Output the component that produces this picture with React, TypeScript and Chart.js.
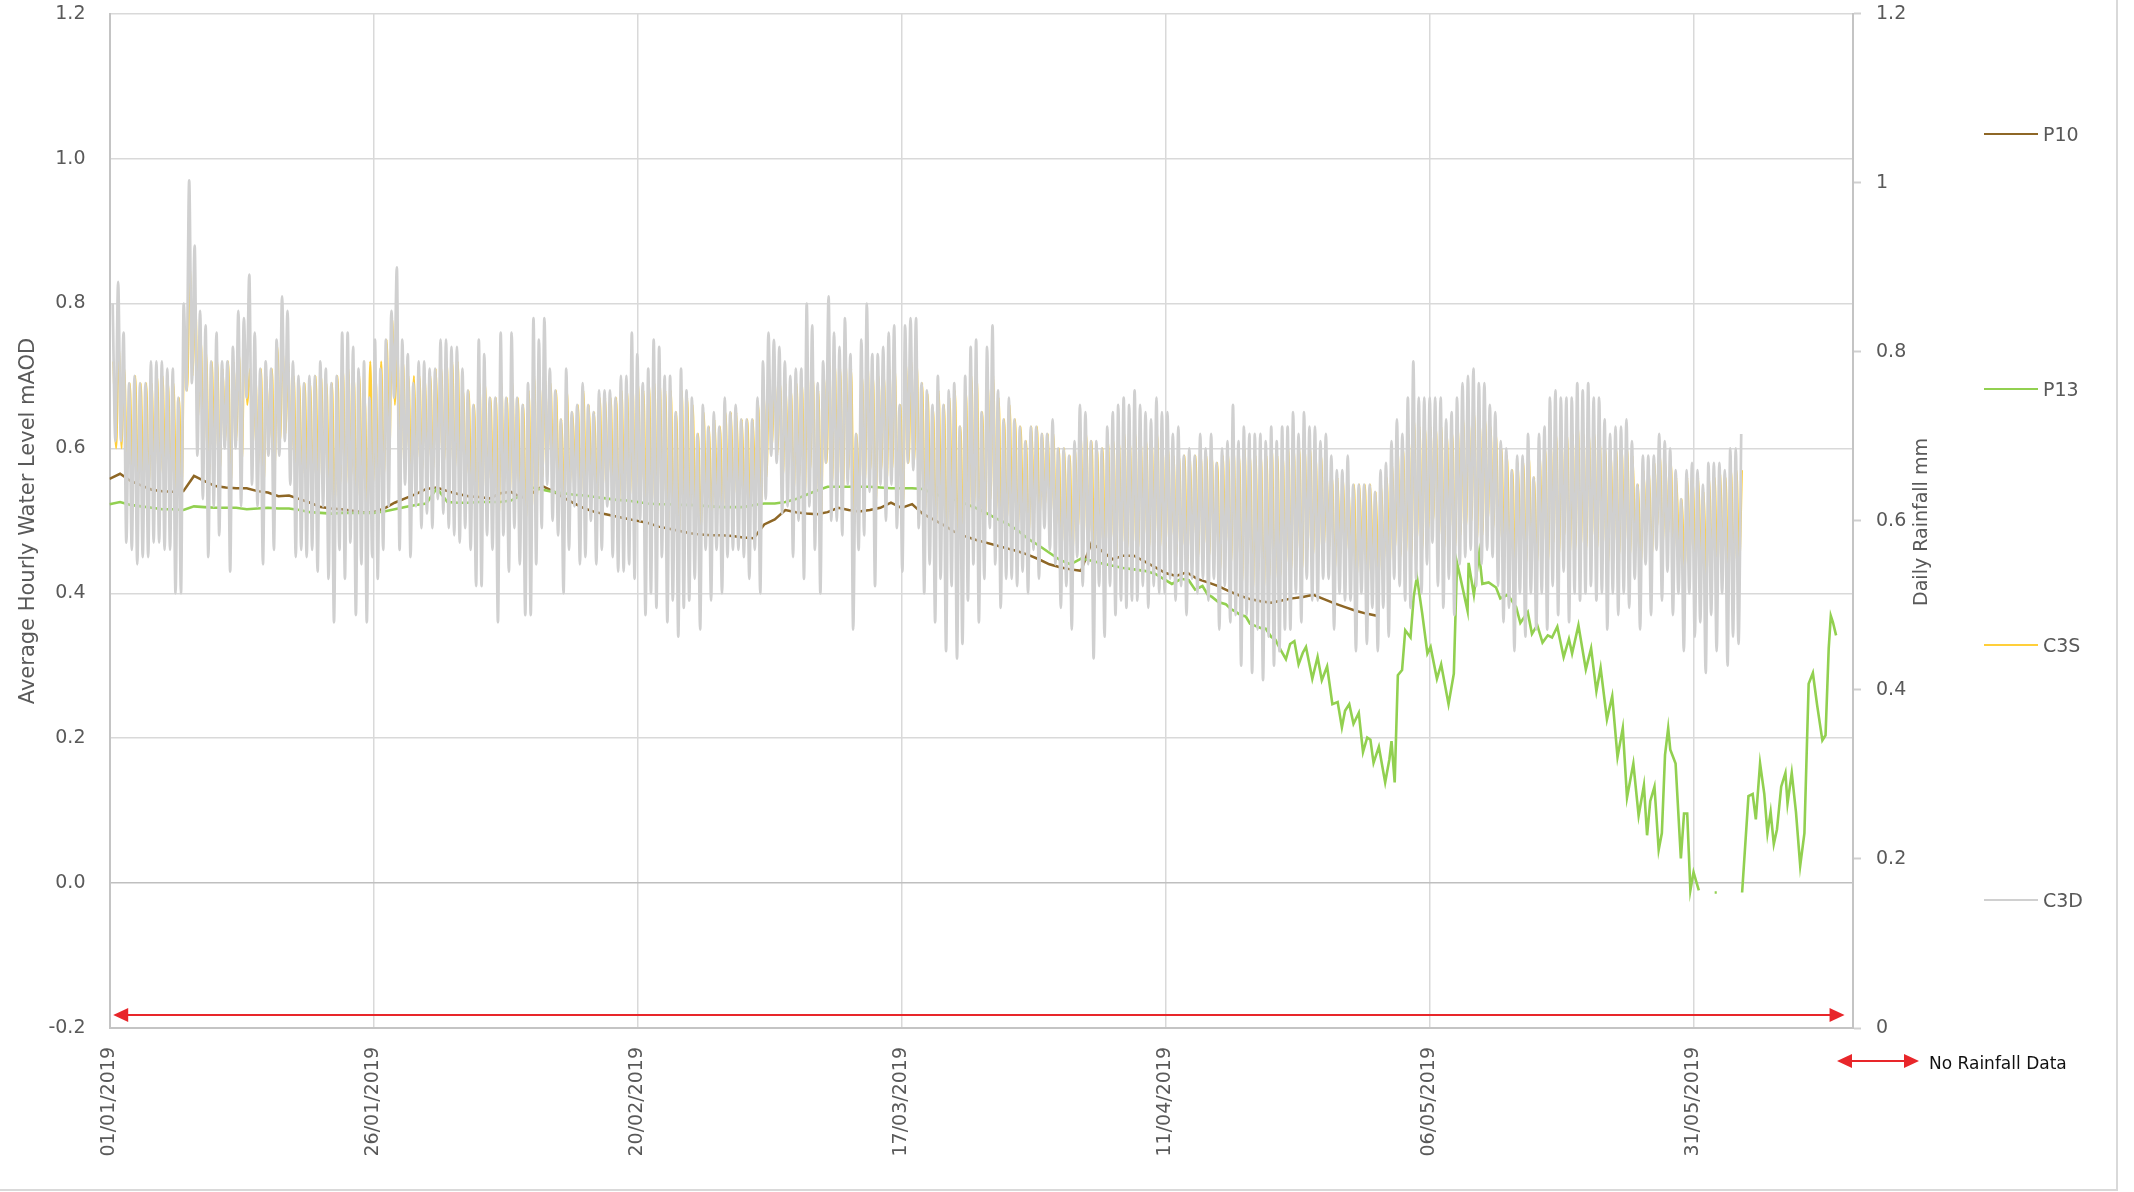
import React, { useEffect, useRef } from 'react';
import { Chart, registerables } from 'chart.js';

Chart.register(...registerables);

// ---------- time axis ----------
const START_DATE = Date.UTC(2019, 0, 1);
const X_MAX_DAY = 165.1;
const X_TICK_STEP = 25;
const TIDE_DAYS = 12.42 / 24; // semi-diurnal tide period (days)
const C3D_FIRST_HIGH_DAY = 0.3;
const C3S_FIRST_HIGH_DAY = 0.37;

// ---------- C3D (grey) : high / low water per tide ----------
const C3D_HIGH_JAN = [0.80,0.83,0.76,0.69,0.70,0.69,0.69,0.72,0.72,0.72,0.71,0.71,0.67,0.80,0.97,0.88,0.79,0.77,0.72,0.76,0.72,0.72,0.74,0.79,0.78,0.84,0.76,0.71,0.72,0.71,0.75,0.81,0.79,0.72,0.70,0.69,0.70,0.70,0.72,0.71,0.69,0.70,0.76,0.76,0.74,0.71,0.72,0.67,0.75,0.71,0.75,0.79,0.85,0.75,0.73,0.69,0.72,0.72,0.71,0.71,0.75,0.75,0.74,0.74];
const C3D_LOW_JAN = [0.61,0.61,0.47,0.46,0.44,0.45,0.45,0.47,0.47,0.46,0.46,0.40,0.40,0.68,0.69,0.59,0.53,0.45,0.52,0.48,0.60,0.43,0.60,0.52,0.67,0.55,0.52,0.44,0.59,0.46,0.59,0.61,0.55,0.45,0.46,0.45,0.46,0.43,0.52,0.42,0.36,0.46,0.42,0.47,0.37,0.44,0.36,0.45,0.42,0.46,0.52,0.67,0.46,0.55,0.45,0.52,0.49,0.51,0.49,0.53,0.51,0.49,0.48,0.47];
const C3D_HIGH_FEB = [0.71,0.68,0.66,0.75,0.73,0.67,0.67,0.76,0.67,0.76,0.67,0.66,0.69,0.78,0.75,0.78,0.71,0.68,0.64,0.71,0.65,0.66,0.69,0.66,0.65,0.68,0.68,0.68,0.67,0.70,0.70,0.76,0.73,0.69,0.71,0.75,0.74,0.70,0.70,0.65,0.71,0.68,0.67,0.62,0.66,0.63,0.65,0.63,0.67,0.65,0.66,0.64,0.64,0.64,0.67,0.72,0.76,0.75,0.74,0.72,0.70,0.71,0.71,0.80];
const C3D_LOW_FEB = [0.49,0.46,0.41,0.41,0.48,0.46,0.36,0.48,0.43,0.49,0.44,0.37,0.37,0.44,0.49,0.55,0.50,0.48,0.40,0.46,0.52,0.44,0.45,0.50,0.44,0.46,0.52,0.45,0.43,0.43,0.44,0.42,0.50,0.37,0.40,0.38,0.45,0.36,0.39,0.34,0.38,0.39,0.42,0.35,0.46,0.39,0.46,0.40,0.45,0.46,0.46,0.45,0.42,0.46,0.40,0.53,0.59,0.58,0.51,0.52,0.45,0.50,0.42,0.52];
const C3D_HIGH_MAR = [0.77,0.69,0.72,0.81,0.76,0.74,0.78,0.73,0.62,0.75,0.80,0.73,0.73,0.74,0.76,0.77,0.66,0.77,0.78,0.78,0.69,0.68,0.66,0.70,0.66,0.68,0.69,0.63,0.70,0.74,0.75,0.65,0.74,0.77,0.68,0.64,0.67,0.64,0.63,0.61,0.63,0.63,0.62,0.62,0.64,0.60,0.60,0.59,0.61,0.66,0.65,0.61,0.61,0.60,0.63,0.65,0.66,0.67,0.66,0.68,0.66,0.65,0.64,0.67];
const C3D_LOW_MAR = [0.46,0.40,0.58,0.50,0.50,0.48,0.55,0.35,0.46,0.48,0.54,0.41,0.55,0.50,0.55,0.49,0.43,0.58,0.57,0.49,0.40,0.44,0.36,0.42,0.32,0.41,0.31,0.33,0.39,0.44,0.36,0.42,0.49,0.44,0.38,0.42,0.42,0.41,0.43,0.40,0.46,0.42,0.49,0.46,0.44,0.38,0.41,0.35,0.45,0.41,0.44,0.31,0.41,0.34,0.41,0.37,0.39,0.38,0.39,0.39,0.41,0.38,0.41,0.40];
const C3D_HIGH_APR = [0.65,0.65,0.62,0.63,0.59,0.60,0.59,0.62,0.60,0.62,0.58,0.60,0.61,0.66,0.61,0.63,0.62,0.62,0.62,0.61,0.63,0.61,0.63,0.63,0.65,0.62,0.65,0.63,0.63,0.61,0.62,0.59,0.57,0.57,0.59,0.55,0.55,0.55,0.55,0.54,0.57,0.58,0.61,0.64,0.62,0.67,0.72,0.67,0.67,0.67,0.67,0.67,0.64,0.65,0.67,0.69,0.70,0.71,0.69,0.69,0.66,0.65,0.61,0.60];
const C3D_LOW_APR = [0.40,0.42,0.39,0.41,0.37,0.42,0.40,0.42,0.39,0.42,0.35,0.41,0.36,0.37,0.30,0.37,0.29,0.35,0.28,0.34,0.30,0.32,0.35,0.35,0.40,0.36,0.42,0.39,0.39,0.42,0.42,0.35,0.40,0.39,0.39,0.32,0.40,0.33,0.38,0.32,0.38,0.34,0.42,0.41,0.39,0.38,0.42,0.40,0.44,0.47,0.41,0.38,0.42,0.37,0.44,0.45,0.46,0.41,0.44,0.46,0.45,0.41,0.36,0.38];
const C3D_HIGH_MAY = [0.57,0.59,0.59,0.62,0.56,0.62,0.63,0.67,0.68,0.67,0.67,0.67,0.69,0.68,0.69,0.67,0.67,0.64,0.62,0.63,0.63,0.64,0.61,0.55,0.59,0.59,0.59,0.62,0.61,0.60,0.57,0.53,0.57,0.58,0.57,0.55,0.58,0.58,0.58,0.57,0.60,0.60,0.62];
const C3D_LOW_MAY = [0.32,0.40,0.34,0.40,0.35,0.40,0.35,0.41,0.37,0.43,0.36,0.40,0.39,0.40,0.41,0.39,0.40,0.35,0.40,0.37,0.40,0.38,0.42,0.35,0.44,0.37,0.46,0.39,0.43,0.37,0.40,0.32,0.40,0.34,0.36,0.29,0.37,0.32,0.40,0.30,0.34,0.33];

// ---------- C3S (yellow) : high / low water per tide ----------
const C3S_HIGH_JAN = [0.72,0.74,0.71,0.69,0.70,0.69,0.69,0.69,0.70,0.70,0.69,0.69,0.67,0.76,0.85,0.80,0.75,0.73,0.72,0.72,0.71,0.72,0.72,0.73,0.74,0.71,0.70,0.71,0.70,0.71,0.74,0.74,0.72,0.70,0.69,0.69,0.69,0.70,0.70,0.69,0.69,0.70,0.71,0.71,0.70,0.70,0.67,0.72,0.70,0.72,0.75,0.78,0.73,0.72,0.70,0.70,0.70,0.70,0.70,0.71,0.71,0.72,0.72,0.72];
const C3S_LOW_JAN = [0.60,0.60,0.57,0.56,0.55,0.55,0.55,0.56,0.56,0.56,0.56,0.54,0.54,0.68,0.70,0.64,0.60,0.56,0.59,0.57,0.61,0.55,0.61,0.58,0.66,0.60,0.58,0.55,0.61,0.57,0.61,0.62,0.59,0.56,0.56,0.55,0.56,0.54,0.58,0.54,0.52,0.55,0.54,0.56,0.52,0.55,0.52,0.55,0.54,0.56,0.59,0.66,0.56,0.59,0.56,0.58,0.57,0.58,0.57,0.59,0.58,0.57,0.57,0.57];
const C3S_HIGH_FEB = [0.68,0.68,0.66,0.69,0.69,0.67,0.67,0.69,0.67,0.69,0.67,0.66,0.68,0.70,0.69,0.70,0.69,0.68,0.64,0.68,0.65,0.66,0.68,0.66,0.65,0.67,0.67,0.67,0.67,0.68,0.68,0.69,0.69,0.68,0.69,0.69,0.69,0.68,0.68,0.65,0.68,0.67,0.66,0.62,0.65,0.63,0.64,0.63,0.65,0.65,0.65,0.64,0.64,0.64,0.66,0.68,0.70,0.70,0.69,0.69,0.68,0.69,0.69,0.71];
const C3S_LOW_FEB = [0.56,0.54,0.52,0.52,0.55,0.54,0.50,0.55,0.53,0.55,0.53,0.50,0.50,0.53,0.56,0.59,0.56,0.55,0.52,0.54,0.57,0.53,0.54,0.56,0.53,0.54,0.56,0.53,0.52,0.52,0.53,0.52,0.55,0.50,0.52,0.51,0.53,0.49,0.51,0.48,0.51,0.51,0.52,0.49,0.53,0.51,0.53,0.51,0.53,0.53,0.54,0.53,0.52,0.54,0.52,0.56,0.60,0.59,0.56,0.57,0.54,0.56,0.53,0.57];
const C3S_HIGH_MAR = [0.70,0.68,0.70,0.72,0.72,0.71,0.72,0.71,0.62,0.70,0.72,0.70,0.70,0.70,0.71,0.71,0.66,0.72,0.72,0.72,0.69,0.675,0.655,0.68,0.66,0.67,0.68,0.63,0.68,0.70,0.70,0.65,0.69,0.70,0.67,0.64,0.66,0.64,0.63,0.61,0.63,0.63,0.62,0.62,0.62,0.60,0.60,0.59,0.60,0.62,0.62,0.61,0.60,0.60,0.61,0.61,0.61,0.62,0.61,0.62,0.61,0.61,0.61,0.62];
const C3S_LOW_MAR = [0.53,0.50,0.58,0.55,0.55,0.54,0.57,0.49,0.54,0.55,0.57,0.52,0.57,0.55,0.57,0.55,0.52,0.58,0.58,0.55,0.51,0.53,0.49,0.52,0.48,0.51,0.47,0.48,0.50,0.52,0.49,0.50,0.53,0.51,0.48,0.50,0.50,0.49,0.50,0.48,0.51,0.50,0.52,0.50,0.49,0.46,0.48,0.45,0.49,0.47,0.48,0.44,0.47,0.45,0.47,0.45,0.46,0.46,0.46,0.46,0.47,0.46,0.47,0.46];
const C3S_HIGH_APR = [0.60,0.60,0.59,0.59,0.59,0.59,0.59,0.59,0.59,0.59,0.58,0.59,0.59,0.60,0.59,0.60,0.59,0.59,0.59,0.59,0.60,0.59,0.59,0.60,0.60,0.60,0.60,0.60,0.59,0.59,0.57,0.56,0.56,0.56,0.55,0.55,0.55,0.55,0.55,0.54,0.55,0.56,0.58,0.60,0.60,0.62,0.64,0.63,0.63,0.63,0.63,0.63,0.62,0.62,0.63,0.64,0.64,0.65,0.64,0.64,0.63,0.62,0.60,0.59];
const C3S_LOW_APR = [0.46,0.47,0.45,0.46,0.44,0.47,0.45,0.46,0.45,0.46,0.43,0.46,0.44,0.44,0.41,0.44,0.40,0.43,0.40,0.42,0.41,0.42,0.43,0.43,0.45,0.43,0.46,0.45,0.45,0.46,0.46,0.43,0.45,0.45,0.45,0.42,0.45,0.42,0.44,0.42,0.44,0.43,0.46,0.45,0.45,0.45,0.47,0.46,0.48,0.50,0.47,0.46,0.48,0.46,0.48,0.49,0.50,0.47,0.48,0.50,0.49,0.47,0.45,0.46];
const C3S_HIGH_MAY = [0.57,0.58,0.58,0.59,0.56,0.59,0.60,0.61,0.62,0.61,0.62,0.62,0.63,0.62,0.62,0.62,0.61,0.60,0.59,0.60,0.60,0.60,0.59,0.55,0.57,0.57,0.58,0.59,0.58,0.58,0.56,0.53,0.56,0.56,0.56,0.54,0.56,0.56,0.57,0.56,0.57,0.57,0.57];
const C3S_LOW_MAY = [0.43,0.46,0.44,0.46,0.44,0.46,0.44,0.47,0.45,0.48,0.45,0.46,0.46,0.46,0.47,0.46,0.46,0.44,0.46,0.45,0.46,0.45,0.47,0.44,0.48,0.45,0.49,0.46,0.48,0.45,0.46,0.43,0.46,0.44,0.45,0.42,0.45,0.43,0.46,0.42,0.44,0.44];

// ---------- P10 (brown) : daily values from 01/01/2019 ----------
const P10_DAILY = [0.558,0.565,0.555,0.549,0.543,0.541,0.540,0.541,0.562,0.555,0.548,0.546,0.545,0.545,0.541,0.539,0.534,0.535,0.530,0.525,0.519,0.517,0.516,0.514,0.512,0.512,0.517,0.525,0.531,0.537,0.544,0.546,0.541,0.537,0.534,0.533,0.531,0.538,0.540,0.532,0.538,0.548,0.541,0.532,0.524,0.517,0.512,0.509,0.506,0.503,0.500,0.497,0.492,0.489,0.486,0.483,0.481,0.480,0.480,0.479,0.477,0.476,0.495,0.502,0.515,0.512,0.510,0.509,0.512,0.518,0.515,0.513,0.515,0.518,0.525,0.518,0.523,0.510,0.502,0.494,0.485,0.479,0.474,0.470,0.466,0.462,0.458,0.453,0.447,0.440,0.436,0.433,0.431,0.470,0.458,0.447,0.452,0.452,0.444,0.436,0.428,0.424,0.429,0.420,0.415,0.410,0.403,0.397,0.392,0.389,0.387,0.390,0.393,0.395,0.398,0.392,0.386,0.381,0.376,0.372,0.369];

// ---------- P13 (green) ----------
const P13_DAILY = [0.523,0.526,0.522,0.520,0.518,0.516,0.516,0.515,0.520,0.519,0.518,0.518,0.518,0.516,0.517,0.518,0.517,0.517,0.515,0.512,0.511,0.510,0.511,0.511,0.511,0.511,0.513,0.516,0.519,0.522,0.524,0.545,0.526,0.525,0.525,0.526,0.526,0.526,0.528,0.535,0.546,0.543,0.540,0.538,0.536,0.535,0.533,0.531,0.529,0.528,0.526,0.524,0.523,0.523,0.522,0.522,0.521,0.520,0.519,0.519,0.519,0.522,0.524,0.524,0.526,0.530,0.536,0.542,0.547,0.547,0.547,0.547,0.547,0.546,0.545,0.545,0.545,0.544,0.538,0.533,0.529,0.524,0.518,0.511,0.503,0.496,0.487,0.475,0.466,0.456,0.446,0.440,0.448,0.445,0.441,0.438,0.435,0.433,0.431,0.427];
const P13_LATE_DAYS = [100.6,101.5,102.2,102.8,103.5,104.0,104.4,105.0,105.7,106.2,106.6,107.1,107.6,108.0,108.5,109.0,109.5,110.0,110.4,110.9,111.4,111.8,112.2,112.6,113.0,113.3,113.9,114.4,114.8,115.3,115.8,116.3,116.7,117.0,117.4,117.8,118.3,118.7,119.1,119.4,119.7,120.2,120.8,121.2,121.4,121.7,122.0,122.4,122.7,123.2,123.5,123.8,124.3,124.8,125.1,125.7,126.1,126.8,127.3,127.6,127.9,128.6,128.7,129.2,129.7,130.0,130.6,131.3,131.7,132.4,133.2,133.6,134.3,134.7,135.2,135.7,136.2,136.6,137.1,137.7,138.2,138.5,139.1,139.8,140.3,140.8,141.2,141.8,142.3,142.8,143.3,143.7,144.3,144.8,145.3,145.6,145.9,146.3,146.7,147.0,147.3,147.6,147.8,148.3,148.8,149.1,149.4,149.7,150.0,150.5,150.6,152.0,152.2,152.3,154.6,155.2,155.6,155.9,156.3,156.7,157.0,157.3,157.6,157.9,158.3,158.7,158.9,159.3,159.7,160.1,160.5,160.9,161.3,161.7,162.2,162.5,162.8,163.0,163.2,163.5];
const P13_LATE_VALUES = [0.413,0.420,0.418,0.405,0.410,0.398,0.395,0.388,0.385,0.378,0.375,0.370,0.368,0.358,0.355,0.352,0.351,0.340,0.336,0.322,0.309,0.330,0.334,0.302,0.318,0.326,0.282,0.312,0.280,0.299,0.247,0.250,0.215,0.238,0.247,0.220,0.235,0.181,0.201,0.198,0.166,0.188,0.139,0.171,0.196,0.139,0.287,0.294,0.349,0.339,0.395,0.423,0.373,0.317,0.326,0.282,0.302,0.247,0.289,0.442,0.423,0.376,0.442,0.398,0.455,0.413,0.415,0.408,0.393,0.398,0.381,0.359,0.374,0.344,0.356,0.332,0.342,0.339,0.354,0.312,0.337,0.317,0.356,0.295,0.324,0.265,0.297,0.226,0.258,0.174,0.214,0.118,0.165,0.093,0.135,0.066,0.113,0.133,0.046,0.069,0.177,0.214,0.184,0.165,0.034,0.096,0.096,-0.010,0.015,-0.010,null,-0.013,-0.013,null,-0.013,0.120,0.123,0.088,0.165,0.123,0.069,0.098,0.054,0.074,0.133,0.152,0.110,0.152,0.098,0.024,0.069,0.275,0.290,0.246,0.197,0.204,0.324,0.369,0.360,0.342];

// ---------- annotation: period of rainfall data ----------
const RAIN_ARROW_START_DAY = 0.35;
const RAIN_ARROW_END_DAY = 164.3;
const RAIN_ARROW_LEVEL = -0.182;

const SERIES_NAMES = ['P10', 'P13', 'C3S', 'C3D'];
const SERIES_COLORS = ['#8E6726', '#92D050', '#FFCF3A', '#D0D0D0'];

const TEXT_GREY = '#595959';
const FONT = '"DejaVu Sans", sans-serif';
const RED = '#E8262A';

type Pt = { x: number; y: number | null };

function tidePoints(firstHigh: number, highs: number[], lows: number[]): Pt[] {
  const pts: Pt[] = [];
  for (let i = 0; i < highs.length; i++) {
    pts.push({ x: firstHigh + i * TIDE_DAYS, y: highs[i] });
    if (i < lows.length) pts.push({ x: firstHigh + (i + 0.5) * TIDE_DAYS, y: lows[i] });
  }
  return pts;
}

function fmtDate(day: number): string {
  const d = new Date(START_DATE + Math.round(day) * 86400000);
  const dd = String(d.getUTCDate()).padStart(2, '0');
  const mm = String(d.getUTCMonth() + 1).padStart(2, '0');
  return `${dd}/${mm}/${d.getUTCFullYear()}`;
}

function clean(v: any): number {
  const n = Number(v);
  return Math.abs(n) < 1e-9 ? 0 : n;
}

const arrowPlugin = {
  id: 'rainArrow',
  afterDraw(chart: any) {
    const { ctx } = chart;
    const xs = chart.scales.x;
    const ys = chart.scales.y;
    const x0 = xs.getPixelForValue(RAIN_ARROW_START_DAY);
    const x1 = xs.getPixelForValue(RAIN_ARROW_END_DAY);
    const yy = ys.getPixelForValue(RAIN_ARROW_LEVEL);
    const hl = 15;
    const hw = 7;
    ctx.save();
    ctx.strokeStyle = RED;
    ctx.fillStyle = RED;
    ctx.lineWidth = 2;
    ctx.beginPath();
    ctx.moveTo(x0 + hl - 2, yy);
    ctx.lineTo(x1 - hl + 2, yy);
    ctx.stroke();
    ctx.beginPath();
    ctx.moveTo(x0, yy);
    ctx.lineTo(x0 + hl, yy - hw);
    ctx.lineTo(x0 + hl, yy + hw);
    ctx.closePath();
    ctx.fill();
    ctx.beginPath();
    ctx.moveTo(x1, yy);
    ctx.lineTo(x1 - hl, yy - hw);
    ctx.lineTo(x1 - hl, yy + hw);
    ctx.closePath();
    ctx.fill();
    ctx.restore();
  },
};

export default function App() {
  const canvasRef = useRef<HTMLCanvasElement | null>(null);

  useEffect(() => {
    if (!canvasRef.current) return;

    const c3d = tidePoints(
      C3D_FIRST_HIGH_DAY,
      [...C3D_HIGH_JAN, ...C3D_HIGH_FEB, ...C3D_HIGH_MAR, ...C3D_HIGH_APR, ...C3D_HIGH_MAY],
      [...C3D_LOW_JAN, ...C3D_LOW_FEB, ...C3D_LOW_MAR, ...C3D_LOW_APR, ...C3D_LOW_MAY]
    );
    const c3s = tidePoints(
      C3S_FIRST_HIGH_DAY,
      [...C3S_HIGH_JAN, ...C3S_HIGH_FEB, ...C3S_HIGH_MAR, ...C3S_HIGH_APR, ...C3S_HIGH_MAY],
      [...C3S_LOW_JAN, ...C3S_LOW_FEB, ...C3S_LOW_MAR, ...C3S_LOW_APR, ...C3S_LOW_MAY]
    );
    const p10: Pt[] = P10_DAILY.map((v, i) => ({ x: i, y: v }));
    const p13: Pt[] = [
      ...P13_DAILY.map((v, i) => ({ x: i, y: v })),
      ...P13_LATE_DAYS.map((d, i) => ({ x: d, y: P13_LATE_VALUES[i] })),
    ];

    const seriesData = [p10, p13, c3s, c3d];
    const widths = [2.5, 2.6, 2.1, 2.7];
    const orders = [3, 2, 1, 0];
    const smooth = [false, false, true, true];

    const tickFont = { family: FONT, size: 19 };
    const axisLine = '#C4C4C4';

    const chart = new Chart(canvasRef.current, {
      type: 'line',
      data: {
        datasets: SERIES_NAMES.map((name, i) => ({
          label: name,
          data: seriesData[i],
          borderColor: SERIES_COLORS[i],
          backgroundColor: SERIES_COLORS[i],
          borderWidth: widths[i],
          pointRadius: 0,
          tension: 0,
          cubicInterpolationMode: smooth[i] ? 'monotone' : 'default',
          fill: false,
          spanGaps: false,
          order: orders[i],
          yAxisID: 'y',
        })),
      },
      options: {
        animation: false,
        responsive: false,
        devicePixelRatio: 1,
        layout: { padding: { top: 13.7, left: 0, right: 0, bottom: 0 } },
        plugins: { legend: { display: false }, tooltip: { enabled: false }, title: { display: false } },
        scales: {
          x: {
            type: 'linear',
            min: 0,
            max: X_MAX_DAY,
            afterFit: (s: any) => { s.height = 164; },
            ticks: {
              stepSize: X_TICK_STEP,
              includeBounds: false,
              autoSkip: false,
              minRotation: 90,
              maxRotation: 90,
              padding: 19,
              font: tickFont,
              color: TEXT_GREY,
              callback: (v: any) => fmtDate(Number(v)),
            },
            grid: { color: '#D9D9D9', lineWidth: 1.5, drawTicks: false },
            border: { color: axisLine, width: 2 },
          },
          y: {
            position: 'left',
            min: -0.2,
            max: 1.2,
            afterFit: (s: any) => { s.width = 109.5; s.paddingTop = 0; s.paddingBottom = 0; },
            ticks: {
              stepSize: 0.2,
              padding: 24,
              font: tickFont,
              color: TEXT_GREY,
              callback: (v: any) => clean(v).toFixed(1),
            },
            grid: {
              color: (ctx: any) => (ctx.tick && Math.abs(ctx.tick.value) < 1e-9 ? '#BFBFBF' : '#D9D9D9'),
              lineWidth: 1.5,
              drawTicks: false,
            },
            border: { color: axisLine, width: 2 },
          },
          y1: {
            position: 'right',
            min: 0,
            max: 1.2,
            afterFit: (s: any) => { s.width = 281; s.paddingTop = 0; s.paddingBottom = 0; },
            ticks: {
              stepSize: 0.2,
              padding: 15,
              font: tickFont,
              color: TEXT_GREY,
              callback: (v: any) => String(Number(clean(v).toFixed(1))),
            },
            grid: { drawOnChartArea: false, drawTicks: true, tickLength: 8, tickColor: '#D0D0D0', tickWidth: 2 },
            border: { color: axisLine, width: 2 },
          },
        },
      } as any,
      plugins: [arrowPlugin],
    });

    return () => chart.destroy();
  }, []);

  const legendY = [134, 389, 645, 900];

  return (
    <div style={{ position: 'fixed', left: 0, top: 0, width: 2134, height: 1192, background: '#fff', overflow: 'hidden' }}>
      <canvas ref={canvasRef} width={2134} height={1192} style={{ position: 'absolute', left: 0, top: 0, width: 2134, height: 1192 }} />
      <div style={{ position: 'absolute', left: 0, top: 0, width: 2118, height: 1191, borderRight: '2px solid #D9D9D9', borderBottom: '2px solid #D9D9D9', boxSizing: 'border-box', pointerEvents: 'none' }} />
      <div style={{ position: 'absolute', left: 27, top: 521, transform: 'translate(-50%, -50%) rotate(-90deg)', whiteSpace: 'nowrap', fontFamily: FONT, fontSize: 21, color: TEXT_GREY }}>
        Average Hourly Water Level mAOD
      </div>
      <div style={{ position: 'absolute', left: 1920, top: 522, transform: 'translate(-50%, -50%) rotate(-90deg)', whiteSpace: 'nowrap', fontFamily: FONT, fontSize: 19, color: TEXT_GREY }}>
        Daily Rainfall mm
      </div>
      {SERIES_NAMES.map((name, i) => (
        <React.Fragment key={name}>
          <div style={{ position: 'absolute', left: 1984, top: legendY[i] - 1.25, width: 54, height: 2.5, background: SERIES_COLORS[i] }} />
          <div style={{ position: 'absolute', left: 2043, top: legendY[i], transform: 'translateY(-50%)', whiteSpace: 'nowrap', fontFamily: FONT, fontSize: 19, color: TEXT_GREY, lineHeight: 1 }}>
            {name}
          </div>
        </React.Fragment>
      ))}
      <svg style={{ position: 'absolute', left: 1837, top: 1050 }} width={82} height={22}>
        <line x1={12} y1={11} x2={70} y2={11} stroke={RED} strokeWidth={2} />
        <polygon points="0,11 15,4 15,18" fill={RED} />
        <polygon points="82,11 67,4 67,18" fill={RED} />
      </svg>
      <div style={{ position: 'absolute', left: 1929, top: 1063, transform: 'translateY(-50%)', whiteSpace: 'nowrap', fontFamily: FONT, fontSize: 17, color: '#111', lineHeight: 1 }}>
        No Rainfall Data
      </div>
    </div>
  );
}
